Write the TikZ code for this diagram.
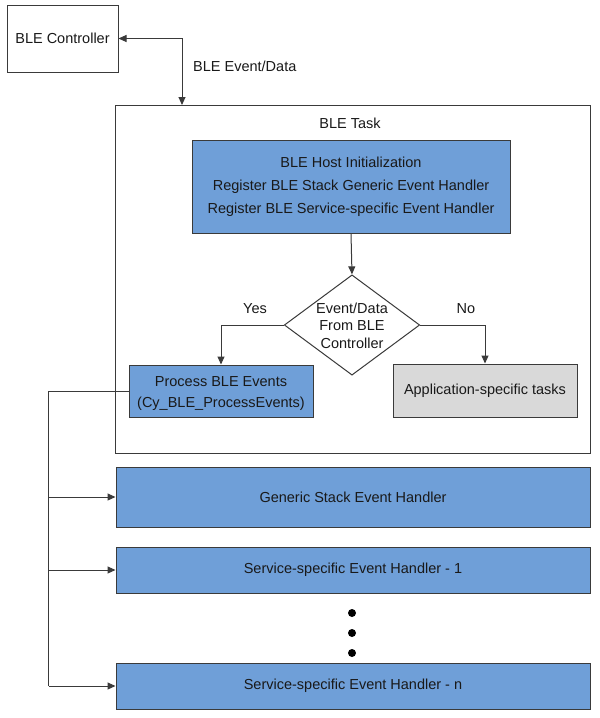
\documentclass[tikz,border=0pt]{standalone}
\usepackage{fontspec}
\setmainfont{Liberation Sans}
\usetikzlibrary{shapes.geometric,arrows.meta,calc}
\definecolor{boxblue}{HTML}{6F9FD8}
\definecolor{boxgrey}{HTML}{D9D9D9}
\definecolor{edge}{HTML}{3A3A3A}
\begin{document}
\begin{tikzpicture}[x=1pt,y=-1pt,
  every node/.style={font=\fontsize{14.5}{17}\selectfont, text=black!90},
  box/.style={draw=edge, line width=1pt, inner sep=0pt, align=center},
  bluebox/.style={box, fill=boxblue},
  greybox/.style={box, fill=boxgrey},
  plainbox/.style={box, fill=white},
  lbl/.style={inner sep=0pt},
  arr/.style={draw=edge, line width=1pt, -{Triangle[length=8pt,width=7pt]}},
  biarr/.style={draw=edge, line width=1pt, {Triangle[length=8pt,width=7pt]}-{Triangle[length=8pt,width=7pt]}},
  line/.style={draw=edge, line width=1pt},
  bigdot/.style={circle, fill=black, inner sep=0pt, minimum size=8pt}
]
\useasboundingbox (0,0) rectangle (600,718);

\node[plainbox, minimum width=111pt, minimum height=67pt] (ctrl) at (62.5,38.5) {BLE Controller};
\node[plainbox, minimum width=475pt, minimum height=348pt] (task) at (352.5,279) {};
\node[lbl] (tasklbl) at (350,123) {BLE Task};
\coordinate (tasktop) at (182,105);
\draw[biarr] (ctrl.east) -| (tasktop);
\node[lbl, anchor=west] (evlbl) at (193,66) {BLE Event/Data};

\node[bluebox, minimum width=318pt, minimum height=93pt, font=\fontsize{14.5}{23}\selectfont] (host) at (351,186.5)
  {BLE Host Initialization\\Register BLE Stack Generic Event Handler\\Register BLE Service-specific Event Handler};

\node[draw=edge, line width=1pt, fill=white, diamond, aspect=1.35, inner sep=0pt, minimum width=132pt, minimum height=98pt, align=center, font=\fontsize{14.5}{17.5}\selectfont] (dec) at (352,325)
  {\rule{0pt}{12pt}Event/Data\\From BLE\\Controller};
\draw[arr] (host.south) -- (dec.north);

\node[bluebox, minimum width=184pt, minimum height=52pt, font=\fontsize{14.5}{21}\selectfont] (proc) at (221,391)
  {\rule{0pt}{14pt}Process BLE Events\\(Cy\_BLE\_ProcessEvents)};
\node[greybox, minimum width=184pt, minimum height=53pt] (app) at (485,390.5) {Application-specific tasks};

\draw[arr] (dec.west) -| (proc.north);
\draw[arr] (dec.east) -| (app.north);
\node[lbl] (yes) at (255,309) {Yes};
\node[lbl] (no) at (466,309) {No};

\node[bluebox, minimum width=474pt, minimum height=60pt] (gen) at (353,497) {Generic Stack Event Handler};
\node[bluebox, minimum width=474pt, minimum height=46pt] (s1) at (353,570) {Service-specific Event Handler - 1};
\node[bluebox, minimum width=474pt, minimum height=46pt] (sn) at (353,686) {Service-specific Event Handler - n};

\node[bigdot] (d1) at (352,613) {};
\node[bigdot] (d2) at (352,633) {};
\node[bigdot] (d3) at (352,653) {};

\coordinate (busbot) at ([xshift=-67pt]sn.west);
\draw[line] (proc.west) -| (busbot);
\draw[arr] (busbot) -- (sn.west);
\draw[arr] ([xshift=-67pt]gen.west) -- (gen.west);
\draw[arr] ([xshift=-67pt]s1.west) -- (s1.west);
\end{tikzpicture}
\end{document}
